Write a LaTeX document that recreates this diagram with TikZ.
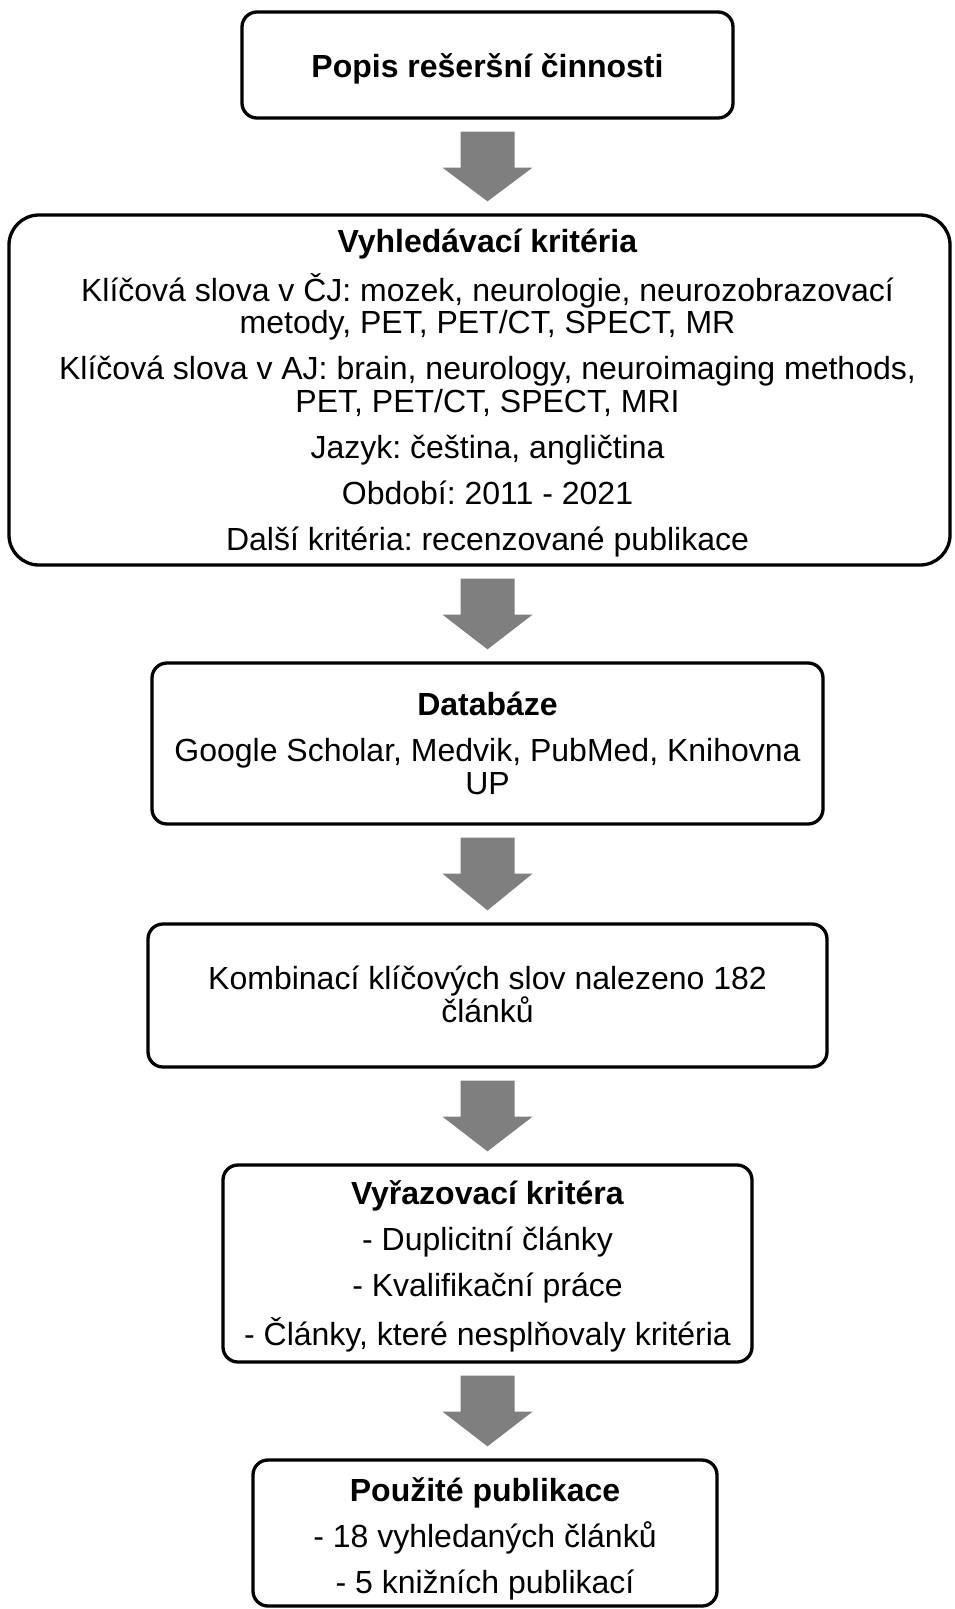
\documentclass[tikz,border=0pt]{standalone}
\usepackage{fontspec}
\setmainfont{Liberation Sans}
\frenchspacing
\usetikzlibrary{calc}
\definecolor{arrowgray}{HTML}{7F7F7F}
\tikzset{
  box/.style={draw=black, line width=3.3pt, rounded corners=15pt, fill=white,
    inner sep=0pt},
  bigbox/.style={box, rounded corners=30pt},
  boxtext/.style={inner sep=0pt, align=center, font=\fontsize{32}{32.5}\selectfont},
  blockarrow/.style={fill=arrowgray, draw=none},
}
\newcommand{\gap}{\\[13.5pt]}
% #1 upper node, #2 lower node, #3 node giving the arrow's axis
\newcommand{\blockarr}[3]{%
  \path let \p1=(#1.south), \p2=(#2.north), \p3=(#3.center) in
    [blockarrow] (\x3-27pt,\y1-12pt) -- (\x3+27pt,\y1-12pt) -- (\x3+27pt,\y1-48pt)
    -- (\x3+45pt,\y1-48pt) -- (\x3,\y2+12pt) -- (\x3-45pt,\y1-48pt)
    -- (\x3-27pt,\y1-48pt) -- cycle;}
\begin{document}
\begin{tikzpicture}[x=1pt,y=-1pt]
\useasboundingbox (0,0) rectangle (954,1609);
\node[box, minimum width=491pt, minimum height=106pt] (b1) at (487.5,65) {};
\node[boxtext] (t1) at ($(b1.center)+(0,4)$) {\textbf{Popis rešeršní činnosti}};
\node[bigbox, minimum width=941pt, minimum height=350pt] (b2) at (479.5,390) {};
\node[boxtext] (t2) at ($(b2.center)+(8,3)$)
  {\textbf{Vyhledávací kritéria}\gap
   Klíčová slova v ČJ: mozek, neurologie, neurozobrazovací\\
   metody, PET, PET/CT, SPECT, MR\gap
   Klíčová slova v AJ: brain, neurology, neuroimaging methods,\\
   PET, PET/CT, SPECT, MRI\gap
   Jazyk: čeština, angličtina\gap
   Období: 2011 - 2021\gap
   Další kritéria: recenzované publikace};
\node[box, minimum width=671pt, minimum height=161pt] (b3) at (487.5,743.5) {};
\node[boxtext] (t3) at (b3.center)
  {\textbf{Databáze}\gap
   Google Scholar, Medvik, PubMed, Knihovna\\
   UP};
\node[box, minimum width=679pt, minimum height=143pt] (b4) at (487.5,995.5) {};
\node[boxtext] (t4) at ($(b4.center)+(0,-1)$)
  {Kombinací klíčových slov nalezeno 182\\
   článků};
\node[box, minimum width=529pt, minimum height=197pt] (b5) at (487.5,1263.5) {};
\node[boxtext] (t5) at ($(b5.center)+(0,2.5)$)
  {\textbf{Vyřazovací kritéra}\gap
   - Duplicitní články\gap
   - Kvalifikační práce\gap
   - Články, které nesplňovaly kritéria};
\node[box, minimum width=464pt, minimum height=146pt] (b6) at (485,1533) {};
\node[boxtext] (t6) at ($(b6.center)+(0,6)$)
  {\textbf{Použité publikace}\gap
   - 18 vyhledaných článků\gap
   - 5 knižních publikací};
\blockarr{b1}{b2}{b1}
\blockarr{b2}{b3}{b3}
\blockarr{b3}{b4}{b3}
\blockarr{b4}{b5}{b4}
\blockarr{b5}{b6}{b5}
\end{tikzpicture}
\end{document}
